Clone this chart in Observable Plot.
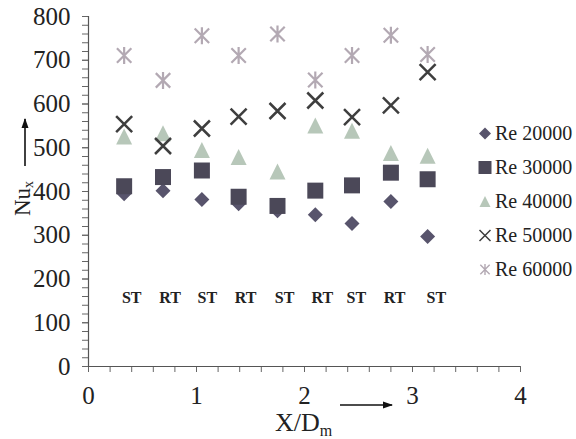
<!DOCTYPE html>
<html>
<head>
<meta charset="utf-8">
<script src="https://cdn.jsdelivr.net/npm/d3@7"></script>
<script src="https://cdn.jsdelivr.net/npm/@observablehq/plot@0.6"></script>
<style>
  html, body { margin: 0; padding: 0; background: #fff; }
  #chart { position: relative; width: 576px; height: 439px; }
</style>
</head>
<body>
<div id="chart"></div>
<script>
// ---- data ----
const xPos = [0.33, 0.69, 1.05, 1.39, 1.75, 2.10, 2.44, 2.80, 3.14];
const re20000 = [395, 402, 382, 372, 356, 347, 327, 377, 297];
const re30000 = [412, 433, 448, 388, 367, 402, 414, 443, 428];
const re40000 = [526, 533, 495, 479, 446, 551, 539, 488, 482];
const re50000 = [554, 504, 544, 571, 584, 608, 570, 597, 673];
const re60000 = [711, 654, 756, 711, 760, 655, 711, 757, 713];
const seriesNames = ["Re 20000", "Re 30000", "Re 40000", "Re 50000", "Re 60000"];
const tubeLabels = ["ST", "RT", "ST", "RT", "ST", "RT", "ST", "RT", "ST"];
const tubeLabelX = [0.40, 0.755, 1.10, 1.455, 1.815, 2.165, 2.48, 2.835, 3.22];
const tubeLabelY = 158;
const xMajorTicks = [0, 1, 2, 3, 4];
const yMajorTicks = [0, 100, 200, 300, 400, 500, 600, 700, 800];

// ---- custom symbols (size = pi r^2) ----
const rad = s => Math.sqrt(s / Math.PI);
const symSquare = { draw(c, s) { const r = rad(s); c.rect(-r, -r, 2 * r, 2 * r); } };
const symDiamond = { draw(c, s) { const r = rad(s); c.moveTo(0, -r); c.lineTo(r, 0); c.lineTo(0, r); c.lineTo(-r, 0); c.closePath(); } };
const symTriangle = { draw(c, s) { const r = rad(s); c.moveTo(0, -r); c.lineTo(r, r); c.lineTo(-r, r); c.closePath(); } };
const symTimes = { draw(c, s) { const r = rad(s); c.moveTo(-r, -r); c.lineTo(r, r); c.moveTo(r, -r); c.lineTo(-r, r); } };
const symAster = { draw(c, s) { const r = rad(s); const q = r * 0.85; c.moveTo(-q, -q); c.lineTo(q, q); c.moveTo(q, -q); c.lineTo(-q, q); c.moveTo(0, -r); c.lineTo(0, r); } };

const styles = [
  { sym: symDiamond, color: "#58546c", fill: true, r: 7.5, lr: 6 },
  { sym: symSquare, color: "#4b4858", fill: true, r: 8, lr: 6.5 },
  { sym: symTriangle, color: "#b7c7b9", fill: true, r: 8, lr: 5.5 },
  { sym: symTimes, color: "#3e3e3e", fill: false, r: 8, lr: 5.5, sw: 2.5, lsw: 1.5 },
  { sym: symAster, color: "#b3a9b3", fill: false, r: 8.5, lr: 5.5, sw: 2.2, lsw: 1.4 }
];
const allSeries = [re20000, re30000, re40000, re50000, re60000];

const font = "'Liberation Serif', 'Times New Roman', serif";

const dotMarks = allSeries.map((vals, k) => {
  const st = styles[k];
  const data = xPos.map((x, i) => ({ x, y: vals[i] }));
  return Plot.dot(data, {
    x: "x", y: "y", r: st.r, symbol: st.sym,
    ...(st.fill ? { fill: st.color, stroke: "none" } : { stroke: st.color, fill: "none", strokeWidth: st.sw })
  });
});

const labelData = tubeLabels.map((t, i) => ({ x: tubeLabelX[i], y: tubeLabelY, t }));

const plot = Plot.plot({
  width: 576,
  height: 439,
  marginLeft: 88,
  marginRight: 56,
  marginTop: 16,
  marginBottom: 73,
  style: { background: "#fff", color: "#222" },
  x: { domain: [0, 4] },
  y: { domain: [0, 800] },
  marks: [
    Plot.axisY({ ticks: d3.range(0, 801, 20), tickFormat: () => "", tickSize: 6, stroke: "#666", label: null }),
    Plot.axisY({ ticks: yMajorTicks, tickFormat: d => String(d), tickSize: 6, tickPadding: 12, fontSize: 25, fontFamily: font, fill: "#222", stroke: "#666", label: null }),
    Plot.axisX({ ticks: d3.range(0, 4.01, 0.2), tickFormat: () => "", tickSize: 6, stroke: "#666", label: null }),
    Plot.axisX({ ticks: xMajorTicks, tickFormat: d => String(d), tickSize: 6, tickPadding: 14, fontSize: 25, fontFamily: font, fill: "#222", stroke: "#666", label: null }),
    Plot.ruleX([0], { stroke: "#555", strokeWidth: 1.2 }),
    Plot.ruleY([0], { stroke: "#555", strokeWidth: 1.2 }),
    Plot.text(labelData, { x: "x", y: "y", text: "t", fontWeight: "bold", fontSize: 16, fontFamily: font, fill: "#222" }),
    ...dotMarks
  ]
});

document.getElementById("chart").appendChild(plot);

// ---- axis titles, arrows and legend ----
const svg = d3.select(plot);
const defs = svg.append("defs");
defs.append("marker").attr("id", "ah").attr("viewBox", "0 0 10 10")
  .attr("refX", 9).attr("refY", 5).attr("markerWidth", 10).attr("markerHeight", 10)
  .attr("markerUnits", "userSpaceOnUse").attr("orient", "auto")
  .append("path").attr("d", "M0,1.5 L10,5 L0,8.5 Z").attr("fill", "#111");

// x title
const xt = svg.append("text").attr("x", 275).attr("y", 431).attr("text-anchor", "start")
  .attr("font-family", font).attr("font-size", 26).attr("fill", "#222");
xt.append("tspan").text("X/D");
xt.append("tspan").attr("font-size", 16).attr("dy", 5).text("m");
svg.append("line").attr("x1", 340).attr("y1", 405).attr("x2", 392).attr("y2", 405)
  .attr("stroke", "#111").attr("stroke-width", 1.6).attr("marker-end", "url(#ah)");

// y title
const yt = svg.append("text").attr("transform", "translate(30,216) rotate(-90)").attr("text-anchor", "start")
  .attr("font-family", font).attr("font-size", 23).attr("fill", "#222");
yt.append("tspan").text("Nu");
yt.append("tspan").attr("font-size", 14).attr("dy", 3).text("x");
svg.append("line").attr("x1", 25).attr("y1", 166).attr("x2", 25).attr("y2", 119)
  .attr("stroke", "#111").attr("stroke-width", 1.6).attr("marker-end", "url(#ah)");

// legend
const lg = svg.append("g");
seriesNames.forEach((name, k) => {
  const st = styles[k];
  const base = 140 + k * 34;
  const p = d3.path();
  st.sym.draw(p, Math.PI * st.lr * st.lr);
  const sy = lg.append("path").attr("d", p.toString())
    .attr("transform", `translate(485,${base - 6.5})`);
  if (st.fill) sy.attr("fill", st.color);
  else sy.attr("fill", "none").attr("stroke", st.color).attr("stroke-width", st.lsw);
  lg.append("text").attr("x", 495).attr("y", base).attr("text-anchor", "start")
    .attr("font-family", font).attr("font-size", 20).attr("fill", "#222").text(name);
});
</script>
</body>
</html>
